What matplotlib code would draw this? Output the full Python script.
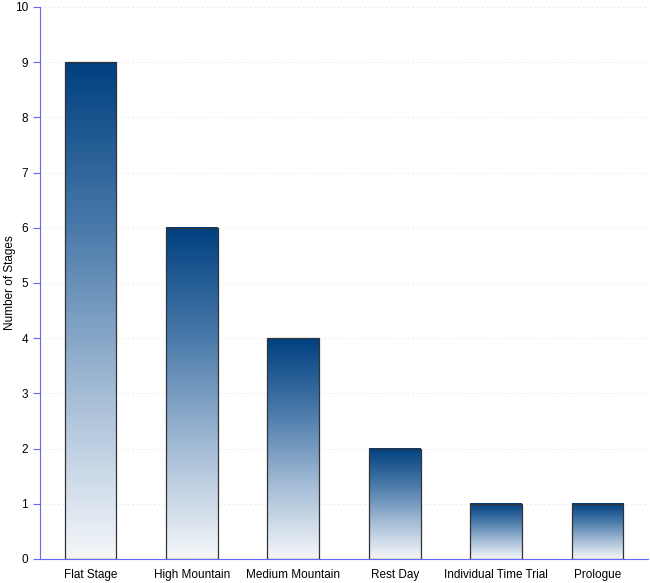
import numpy as np
import matplotlib
matplotlib.use("Agg")
import matplotlib.pyplot as plt
from matplotlib.colors import LinearSegmentedColormap

plt.rcParams['font.family'] = ['Liberation Sans', 'DejaVu Sans']

categories = ['Flat Stage', 'High Mountain', 'Medium Mountain', 'Rest Day',
              'Individual Time Trial', 'Prologue']
stages = [9, 6, 4, 2, 1, 1]

fig = plt.figure(figsize=(6.5, 5.83), dpi=100)
ax = fig.add_axes([0.0615, 0.0412, 0.9355, 0.9468])

cmap = LinearSegmentedColormap.from_list('blu', ['#f5f7fa', '#a4bcd6', '#4a7aaa', '#004080'])
grad = np.linspace(0, 1, 256).reshape(-1, 1)
width = 0.51

for i, v in enumerate(stages):
    ax.imshow(grad, cmap=cmap, origin='lower', aspect='auto',
              extent=(i - width / 2, i + width / 2, 0, v), zorder=2)
    ax.bar(i, v, width=width, facecolor='none', edgecolor='#333333',
           linewidth=0.9, zorder=3)

ax.set_xlim(-0.5, len(categories) - 0.5)
ax.set_ylim(0, 10)
ax.set_yticks(range(0, 11))
ax.set_xticks(range(len(categories)))
ax.set_xticklabels(categories)
ax.set_ylabel('Number of Stages', fontsize=8.5)
ax.yaxis.set_label_coords(-0.04, 0.5)

ax.yaxis.grid(True, linestyle=(0, (1.5, 3)), color='#e6e6e6', linewidth=0.7, zorder=0)
for s in ['top', 'right']:
    ax.spines[s].set_visible(False)
for s in ['left', 'bottom']:
    ax.spines[s].set_color('#6666ff')
ax.tick_params(axis='y', colors='#6666ff', labelcolor='black', labelsize=8.5, length=5)
ax.tick_params(axis='x', length=0, labelsize=8.5, pad=7)

fig.savefig('out.png', dpi=100)
